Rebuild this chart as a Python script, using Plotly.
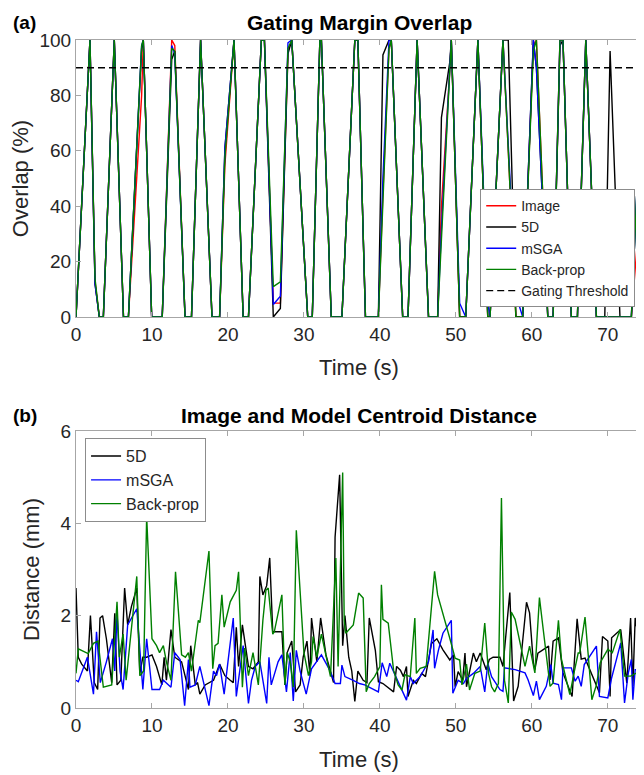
import plotly.graph_objects as go

# ---------------- (a) Gating margin overlap ----------------
T_ov = [0, 1.84, 2.5, 3.07, 3.6, 5.04, 6.25, 6.9, 8.64, 8.86, 9.96, 11.35, 12.6, 13.0,
        14.35, 15.2, 16.4, 17.9, 18.9, 19.6, 20.8, 22.0, 22.7, 24.4, 24.8, 25.97, 26.9,
        27.9, 28.4, 30.5, 31.1, 32.1, 32.3, 33.6, 35.0, 36.7, 37.1, 38.1, 39.8, 40.4,
        41.2, 41.5, 43.0, 43.7, 44.9, 46.4, 47.6, 48.1, 49.2, 49.4, 50.5, 51.3, 52.9,
        54.2, 54.5, 56.2, 56.9, 57.9, 58.8, 60.2, 60.6, 62.1, 62.8, 63.7, 64.1, 65.2,
        66.0, 67.1, 68.5, 69.6, 70.3, 71.6, 73.1, 74.7]

ov_image = [0, 100, 13, 0, 0, 100, 0, 0, 80, 100, 0, 0, 100, 98, 0, 0, 100, 0, 0, 55, 100,
            0, 0, 100, 100, 5, 5, 96, 100, 0, 0, 100, 100, 0, 0, 100, 100, 0, 0, 45, 97,
            100, 0, 0, 100, 0, 0, 40, 89, 100, 0, 0, 100, 0, 0, 100, 60, 0, 0, 98, 100,
            0, 0, 100, 100, 0, 0, 100, 0, 0, 0, 0, 0, 55]
ov_5d = [0, 100, 12, 0, 0, 100, 0, 0, 97, 100, 0, 0, 93, 96, 0, 0, 100, 0, 0, 61, 100,
         0, 0, 100, 100, 0, 3.1, 95, 100, 0, 0, 100, 100, 0, 0, 100, 100, 0, 0, 94.6, 100,
         100, 0, 0, 100, 0, 0, 72, 92, 100, 0, 0, 100, 0, 0, 100, 100, 0, 0, 100, 90,
         0, 0, 98, 100, 0, 0, 100, 0, 0, 96, 0, 0, 100]
ov_msga = [0, 100, 12, 0, 0, 100, 0, 0, 98, 100, 0, 0, 98, 95, 0, 0, 100, 0, 0, 61, 100,
           0, 0, 100, 100, 4.5, 7.5, 99, 100, 0, 0, 100, 100, 0, 0, 100, 100, 0, 0, 50, 100,
           100, 0, 0, 100, 0, 0, 32, 90, 100, 5, 0, 100, 5, 0, 100, 62, 8, 0, 100, 90,
           0, 0, 100, 100, 0, 0, 100, 0, 0, 0, 0, 0, 100]
ov_backprop = [0, 100, 14, 0, 0, 100, 0, 0, 98, 100, 0, 0, 97, 96, 0, 0, 100, 0, 0, 58, 100,
               0, 0, 100, 100, 11, 12.7, 97, 100, 0, 0, 100, 100, 0, 0, 100, 100, 0, 0, 42, 97,
               100, 0, 0, 100, 0, 0, 28, 89, 100, 0, 0, 100, 0, 0, 100, 60, 0, 0, 96, 100,
               0, 0, 100, 100, 0, 0, 100, 0, 0, 0, 0, 0, 100]
gating_threshold = 90

# ---------------- (b) Centroid distance ----------------
t_5d = [0, 0.3, 0.75, 1.5, 1.9, 2.4, 2.85, 3.16, 3.5, 4.0, 4.7, 5.1, 5.4, 5.9, 6.4, 6.8,
        7.3, 8.0, 8.4, 8.8, 9.3, 10.0, 10.6, 11.3, 11.6, 11.9, 12.5, 13.0, 13.9, 14.8,
        15.1, 15.7, 16.0, 16.3, 17.0, 18.1, 18.9, 19.6, 20.3, 20.7, 21.1, 21.4, 21.9,
        22.7, 23.3, 24.0, 24.2, 24.6, 25.1, 25.5, 25.9, 27.1, 27.5, 27.8, 28.4, 28.9,
        29.5, 29.9, 30.4, 30.8, 31.0, 31.7, 32.2, 32.9, 33.9, 34.1, 34.7, 35.1, 35.4,
        35.9, 36.3, 36.7, 37.1, 37.8, 38.3, 38.6, 39.4, 39.8, 40.4, 41.8, 42.2, 42.7,
        43.1, 43.5, 43.7, 44.4, 44.8, 45.5, 46.0, 46.8, 47.5, 48.3, 49.2, 49.7, 49.9,
        50.3, 50.9, 51.2, 51.4, 52.3, 52.7, 53.2, 54.0, 54.4, 54.9, 55.8, 56.2, 57.1,
        57.6, 58.2, 59.3, 59.7, 60.2, 60.4, 60.8, 62.2, 62.4, 62.8, 63.5, 64.1, 65.3,
        65.96, 66.5, 67.0, 68.9, 69.3, 70.0, 70.3, 70.5, 71.7, 72.5, 73.0, 73.3, 73.6,
        74.2, 74.7]
d_5d = [2.6, 1.1, 0.95, 0.8, 2.0, 0.55, 0.4, 1.95, 2.0, 1.5, 0.55, 2.05, 0.5, 0.6, 2.6, 1.8,
        2.2, 2.6, 0.75, 1.1, 1.1, 1.15, 0.9, 0.5, 1.1, 0.6, 1.7, 1.1, 1.0, 0.4,
        1.35, 0.5, 0.55, 0.3, 0.5, 0.6, 0.95, 0.7, 0.6, 0.55, 1.75, 0.9, 1.8,
        0.9, 0.85, 1.0, 2.85, 2.45, 2.65, 3.25, 1.65, 1.65, 0.5, 1.2, 1.45, 0.35,
        0.5, 1.1, 1.45, 0.7, 1.95, 1.0, 1.95, 1.15, 0.55, 3.7, 5.05, 1.35, 2.0,
        1.1, 0.8, 0.14, 0.8, 0.6, 0.55, 1.95, 1.25, 0.57, 0.53, 0.35, 0.9, 0.82,
        0.68, 0.9, 0.25, 0.6, 0.53, 0.75, 0.68, 1.4, 1.5, 1.26, 1.04, 1.15, 0.46,
        0.79, 0.6, 1.19, 0.46, 1.19, 1.0, 1.19, 0.83, 1.05, 1.1, 1.1, 0.9, 2.5,
        0.15, 0.47, 2.29, 2.06, 0.98, 0.83, 1.19, 1.34, 0.61, 1.45, 1.52, 0.76, 0.25,
        1.93, 1.06, 1.08, 0.33, 1.55, 1.45, 0.25, 1.52, 1.7, 0.54, 1.95, 0.47, 1.95,
        1.34, 1.12]

t_msga = [0, 0.3, 1.5, 2.3, 2.7, 3.2, 4.0, 4.8, 5.1, 5.4, 5.8, 6.2, 6.8, 8.0, 8.8, 9.3,
          10.0, 11.0, 11.5, 12.5, 13.0, 13.7, 14.3, 14.8, 15.0, 15.7, 16.3, 17.5, 18.1,
          18.5, 18.9, 19.5, 20.0, 20.7, 21.1, 22.0, 22.7, 23.1, 23.6, 24.2, 25.1, 25.4,
          25.7, 26.6, 27.1, 27.7, 28.2, 28.6, 29.0, 29.5, 30.3, 31.0, 32.3, 33.4, 34.1,
          34.8, 35.0, 35.4, 36.5, 37.3, 38.0, 39.8, 40.3, 40.9, 41.3, 42.2, 43.5, 44.0,
          44.4, 45.3, 46.4, 47.0, 47.2, 47.7, 48.3, 49.4, 49.6, 50.3, 51.0, 51.4, 52.3,
          53.2, 53.8, 54.2, 54.7, 55.8, 56.2, 56.4, 57.8, 59.1, 59.5, 60.2, 60.6, 61.0,
          61.9, 62.5, 62.8, 63.5, 63.9, 64.1, 65.2, 65.7, 66.1, 66.5, 66.9, 68.5, 68.9,
          70.0, 70.5, 71.7, 72.2, 72.7, 73.1, 73.3, 73.6, 74.7]
d_msga = [0.6, 0.57, 1.1, 0.3, 1.65, 0.55, 1.0, 1.5, 0.8, 2.05, 0.8, 0.4, 1.8, 2.15, 0.4, 1.5,
          0.4, 0.4, 0.6, 0.45, 1.2, 1.05, 0.05, 1.05, 0.45, 0.5, 0.9, 0.05, 0.8,
          0.7, 0.95, 0.3, 1.0, 1.95, 0.25, 1.35, 0.1, 0.6, 0.9, 1.0, 0.1, 1.1,
          0.5, 1.0, 1.15, 0.35, 1.2, 0.15, 1.25, 0.8, 0.3, 0.85, 1.15, 0.82, 0.53,
          0.53, 0.93, 0.68, 0.6, 0.53, 0.5, 0.35, 0.98, 0.68, 0.97, 0.65, 0.17, 0.68,
          0.53, 0.68, 1.0, 1.69, 0.86, 1.25, 1.62, 1.9, 0.32, 0.6, 0.53, 0.64, 0.75,
          0.9, 0.35, 0.97, 0.68, 0.4, 0.36, 0.87, 0.83, 0.76, 0.61, 0.27, 0.58, 0.18,
          0.47, 0.94, 0.54, 0.51, 0.18, 0.87, 0.87, 0.58, 0.69, 0.47, 0.94, 1.34, 0.25,
          0.22, 0.65, 1.41, 0.11, 0.76, 1.05, 0.18, 0.83, 0.83]

t_backprop = [0, 0.3, 1.6, 2.3, 2.9, 3.6, 4.7, 5.4, 5.7, 6.2, 6.6, 8.0, 8.4, 8.9, 9.3, 10.0,
              10.6, 11.0, 11.5, 11.9, 12.5, 13.1, 13.9, 14.4, 14.8, 15.2, 16.1, 16.3, 17.5,
              18.0, 18.3, 18.7, 19.2, 19.5, 20.3, 20.9, 21.1, 21.4, 21.9, 22.2, 22.7, 23.3,
              24.0, 24.6, 25.0, 25.3, 25.9, 26.1, 27.1, 27.5, 27.8, 28.2, 28.6, 29.0, 29.7,
              30.0, 30.6, 31.0, 31.2, 31.7, 32.3, 32.9, 33.5, 34.2, 34.5, 35.1, 35.3, 35.5,
              36.5, 37.2, 37.8, 38.2, 38.6, 39.3, 40.0, 40.2, 40.4, 41.1, 41.8, 42.4, 42.9,
              43.3, 44.0, 44.6, 44.8, 45.3, 46.1, 47.2, 47.6, 49.2, 49.9, 50.5, 50.8, 51.4,
              51.8, 52.5, 53.2, 53.8, 54.3, 54.7, 55.1, 55.6, 56.0, 56.4, 56.9, 57.3, 57.8,
              59.1, 59.7, 60.4, 61.0, 61.5, 62.4, 62.8, 63.5, 63.9, 64.5, 65.0, 65.6, 66.1,
              66.3, 67.0, 67.4, 67.9, 68.5, 69.0, 70.0, 70.6, 71.6, 72.2, 73.0, 73.8, 74.7]
d_backprop = [0.75, 1.28, 1.18, 1.4, 1.45, 0.45, 0.5, 2.3, 1.1, 1.6, 0.6, 2.85, 0.7, 0.8, 4.15, 1.5,
              1.35, 1.2, 1.35, 1.0, 0.6, 2.95, 1.15, 1.1, 1.2, 0.8, 1.9, 1.85, 3.4,
              0.85, 1.35, 1.4, 2.45, 1.75, 2.3, 2.5, 2.55, 2.95, 0.45, 1.3, 0.7, 1.2,
              0.5, 1.9, 2.55, 2.6, 1.6, 1.65, 2.45, 0.5, 1.2, 1.0, 0.45, 3.85, 2.0,
              1.2, 0.7, 1.0, 1.55, 1.11, 1.6, 1.1, 0.68, 3.25, 0.9, 5.1, 1.9, 1.62,
              1.8, 2.49, 2.38, 0.35, 0.53, 0.68, 0.9, 2.67, 1.92, 1.84, 0.82, 0.5, 0.39,
              0.72, 0.68, 1.95, 0.75, 0.86, 0.9, 2.96, 2.45, 1.51, 1.08, 1.04, 0.5, 0.95,
              0.39, 0.75, 0.8, 1.84, 0.75, 0.46, 0.35, 0.53, 4.55, 0.6, 0.11, 2.08, 1.92,
              0.9, 1.34, 0.76, 2.39, 1.7, 0.47, 0.54, 1.9, 1.05, 0.6, 0.29, 0.8, 1.19,
              1.19, 1.97, 1.19, 0.18, 0.5, 0.98, 1.27, 1.2, 1.7, 0.69, 0.69, 0.76, 0.76]

x_range = [0, 74.5]
x_ticks = [0, 10, 20, 30, 40, 50, 60, 70]

FONT = "Arial, Liberation Sans, Helvetica, sans-serif"
AXC = "#a6a6a6"
TXT = "#262626"

fig = go.Figure()

top_series = [("Image", ov_image, "#ff0000"), ("5D", ov_5d, "#000000"),
              ("mSGA", ov_msga, "#0000ff"), ("Back-prop", ov_backprop, "#008000")]
for name, vals, col in top_series:
    fig.add_trace(go.Scatter(x=T_ov, y=vals, mode="lines", name=name,
                             line=dict(color=col, width=1.4),
                             xaxis="x", yaxis="y", legend="legend"))
fig.add_trace(go.Scatter(x=x_range, y=[gating_threshold, gating_threshold], mode="lines",
                         name="Gating Threshold",
                         line=dict(color="#000000", width=1.4, dash="7px,4px"),
                         xaxis="x", yaxis="y", legend="legend"))

bottom_series = [("5D", t_5d, d_5d, "#000000"), ("mSGA", t_msga, d_msga, "#0000ff"),
                 ("Back-prop", t_backprop, d_backprop, "#008000")]
for name, tt, vals, col in bottom_series:
    fig.add_trace(go.Scatter(x=tt, y=vals, mode="lines", name=name,
                             line=dict(color=col, width=1.4),
                             xaxis="x2", yaxis="y2", legend="legend2"))

ax_common = dict(showline=True, linecolor=AXC, linewidth=1, mirror="ticks",
                 ticks="inside", ticklen=5, tickcolor=AXC, showgrid=False, zeroline=False,
                 automargin=False,
                 tickfont=dict(size=19, color=TXT, family=FONT))

# page body has an 8px margin: figure is sized/offset so the plot areas land in place
fig.update_layout(
    width=636, height=767,
    margin=dict(l=68, r=2, t=32, b=67, autoexpand=False),
    paper_bgcolor="white", plot_bgcolor="white",
    font=dict(family=FONT, color=TXT),
    xaxis=dict(domain=[0, 1], anchor="y", range=x_range, tickvals=x_ticks,
               title=dict(text="Time (s)", font=dict(size=22, color=TXT), standoff=15),
               **ax_common),
    yaxis=dict(domain=[0.5853, 1], anchor="x", range=[0, 100], tickvals=[0, 20, 40, 60, 80, 100],
               title=dict(text="Overlap (%)", font=dict(size=22, color=TXT), standoff=5),
               **ax_common),
    xaxis2=dict(domain=[0, 1], anchor="y2", range=x_range, tickvals=x_ticks,
                title=dict(text="Time (s)", font=dict(size=22, color=TXT), standoff=16),
                **ax_common),
    yaxis2=dict(domain=[0, 0.4147], anchor="x2", range=[0, 6], tickvals=[0, 2, 4, 6],
                title=dict(text="Distance (mm)", font=dict(size=22, color=TXT), standoff=14),
                **ax_common),
    legend=dict(x=0.988, xanchor="right", y=0.600, yanchor="bottom",
                bgcolor="white", bordercolor="#8c8c8c", borderwidth=1,
                font=dict(size=14, color=TXT, family=FONT), tracegroupgap=0, itemwidth=30),
    legend2=dict(x=0.016, xanchor="left", y=0.404, yanchor="top",
                 bgcolor="white", bordercolor="#8c8c8c", borderwidth=1,
                 font=dict(size=16, color=TXT, family=FONT), tracegroupgap=0, itemwidth=30),
    showlegend=True,
    annotations=[
        dict(text="<b>Gating Margin Overlap</b>", x=0.5, y=1.0255, xref="paper", yref="paper",
             xanchor="center", yanchor="middle", showarrow=False,
             font=dict(size=21, color="#000000", family=FONT)),
        dict(text="<b>(a)</b>", x=-0.115, y=1.0255, xref="paper", yref="paper",
             xanchor="left", yanchor="middle", showarrow=False,
             font=dict(size=19, color="#000000", family=FONT)),
        dict(text="<b>Image and Model Centroid Distance</b>", x=0.5, y=0.4386, xref="paper",
             yref="paper", xanchor="center", yanchor="middle", showarrow=False,
             font=dict(size=21, color="#000000", family=FONT)),
        dict(text="<b>(b)</b>", x=-0.115, y=0.4386, xref="paper", yref="paper",
             xanchor="left", yanchor="middle", showarrow=False,
             font=dict(size=19, color="#000000", family=FONT)),
    ],
)

fig.write_html("out.html")
